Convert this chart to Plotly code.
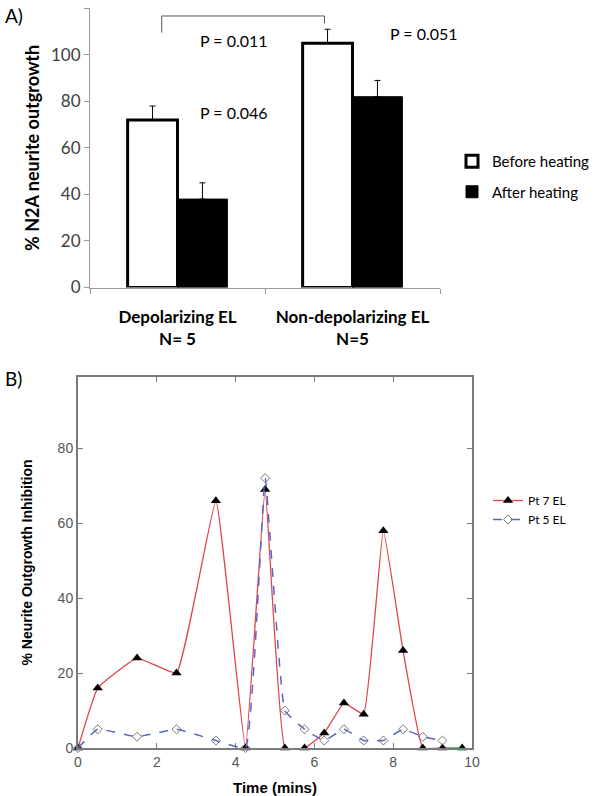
import plotly.graph_objects as go

# ---------------- Panel A data ----------------
groups = ["Depolarizing EL<br>N= 5", "Non-depolarizing EL<br>N=5"]
before_vals = [72, 105]
before_err = [6, 6]
after_vals = [38, 82]
after_err = [7, 7]
p_texts = ["P = 0.011", "P = 0.046", "P = 0.051"]

# ---------------- Panel B data ----------------
time_pt7 = [0, 0.5, 1.5, 2.5, 3.5, 4.25, 4.75, 5.25, 5.75, 6.25, 6.75, 7.25, 7.75, 8.25, 8.75, 9.25, 9.75]
pt7 = [0, 16, 24, 20, 66, 0, 69, 0, 0, 4, 12, 9, 58, 26, 0, 0, 0]
time_pt5 = [0, 0.5, 1.5, 2.5, 3.5, 4.25, 4.75, 5.25, 5.75, 6.25, 6.75, 7.25, 7.75, 8.25, 8.75, 9.25]
pt5 = [0, 5, 3, 5, 2, 0, 72, 10, 5, 2, 5, 2, 2, 5, 3, 2]

W, H = 596, 796


def fx(px):
    return px / W


def fy(py):
    return 1 - py / H


FA = "Lato, 'Open Sans', sans-serif"
FB = "'Liberation Sans', Arial, sans-serif"

fig = go.Figure()

fig.add_trace(go.Bar(
    x=groups, y=before_vals, name="Before heating",
    marker=dict(color="white", line=dict(color="black", width=3)),
    error_y=dict(type="data", array=before_err, arrayminus=[0, 0], symmetric=False,
                 color="black", thickness=1, width=3),
    xaxis="x", yaxis="y", legend="legend", legendgroup="a1",
))
fig.add_trace(go.Bar(
    x=groups, y=after_vals, name="After heating",
    marker=dict(color="black", line=dict(color="black", width=1)),
    error_y=dict(type="data", array=after_err, arrayminus=[0, 0], symmetric=False,
                 color="black", thickness=1, width=3),
    xaxis="x", yaxis="y", legend="legend", legendgroup="a2",
))

fig.add_trace(go.Scatter(
    x=time_pt7, y=pt7, name="Pt 7 EL", mode="lines+markers",
    line=dict(color="#e0464e", width=1.3, shape="spline", smoothing=0.3),
    marker=dict(symbol="triangle-up", size=9, color="black"),
    xaxis="x2", yaxis="y2", legend="legend2", cliponaxis=False,
))
fig.add_trace(go.Scatter(
    x=time_pt5, y=pt5, name="Pt 5 EL", mode="lines+markers",
    line=dict(color="#5a66c8", width=1.5, dash="dash", shape="spline", smoothing=0.3),
    marker=dict(symbol="diamond-open", size=7, color="#777777", line=dict(width=1)),
    xaxis="x2", yaxis="y2", legend="legend2", cliponaxis=False,
))

shapes = [
    # significance bracket
    dict(type="line", xref="x", yref="y", x0=-0.09, x1=-0.09, y0=109.5, y1=116.7,
         line=dict(color="#555555", width=1)),
    dict(type="line", xref="x", yref="y", x0=-0.09, x1=0.84, y0=116.7, y1=116.7,
         line=dict(color="#555555", width=1)),
    dict(type="line", xref="x", yref="y", x0=0.84, x1=0.84, y0=113.5, y1=116.7,
         line=dict(color="#555555", width=1)),
]

annotations = [
    dict(text=p_texts[0], x=0.32, y=106, xref="x", yref="y", showarrow=False,
         font=dict(family=FA, size=16, color="black")),
    dict(text=p_texts[1], x=0.32, y=75, xref="x", yref="y", showarrow=False,
         font=dict(family=FA, size=16, color="black")),
    dict(text=p_texts[2], x=1.41, y=109, xref="x", yref="y", showarrow=False,
         font=dict(family=FA, size=16, color="black")),
    dict(text="A)", x=fx(3), y=fy(16), xref="paper", yref="paper", showarrow=False,
         xanchor="left", yanchor="middle", font=dict(family=FA, size=19, color="black")),
    dict(text="B)", x=fx(3), y=fy(378), xref="paper", yref="paper", showarrow=False,
         xanchor="left", yanchor="middle", font=dict(family=FA, size=19, color="black")),
]

fig.update_layout(
    width=W, height=H,
    margin=dict(l=0, r=0, t=0, b=0, autoexpand=False),
    paper_bgcolor="white", plot_bgcolor="white",
    barmode="group", bargap=0.43, bargroupgap=0,
    shapes=shapes, annotations=annotations,
    xaxis=dict(domain=[fx(90), fx(440)], range=[-0.5, 1.5], autorange=False,
               showline=True, linecolor="#9a9a9a", linewidth=1,
               ticks="outside", tickson="boundaries", ticklen=5, tickcolor="#9a9a9a",
               ticklabelstandoff=14, automargin=False, tickangle=0,
               tickfont=dict(family=FA, size=17, color="black", weight="bold"),
               showgrid=False, anchor="y"),
    yaxis=dict(domain=[fy(287.5), fy(8.3)], range=[0, 120], dtick=20,
               showline=True, linecolor="#9a9a9a", linewidth=1, ticks="outside",
               ticklen=5, tickcolor="#9a9a9a", showgrid=False, zeroline=False,
               automargin=False,
               tickfont=dict(family=FA, size=17, color="#404040"),
               title=dict(text="% N2A neurite outgrowth", standoff=6,
                          font=dict(family=FA, size=18, color="black", weight="bold")),
               anchor="x"),
    xaxis2=dict(domain=[fx(78), fx(472)], range=[0, 10], dtick=2, showline=True,
                linecolor="#7a7a7a", linewidth=2, mirror="ticks", ticks="inside",
                ticklen=5, tickcolor="#7a7a7a", showgrid=False, zeroline=False,
                automargin=False,
                tickfont=dict(family=FB, size=14, color="#555555"),
                title=dict(text="Time (mins)", standoff=14,
                           font=dict(family=FB, size=15, color="black", weight="bold")),
                anchor="y2"),
    yaxis2=dict(domain=[fy(748), fy(377)], range=[0, 99], dtick=20, showline=True,
                linecolor="#7a7a7a", linewidth=2, mirror="ticks", ticks="inside",
                ticklen=5, tickcolor="#7a7a7a", showgrid=False, zeroline=False,
                automargin=False,
                tickfont=dict(family=FB, size=14, color="#555555"),
                title=dict(text="% Neurite Outgrowth Inhibition", standoff=22,
                           font=dict(family=FB, size=14, color="black", weight="bold")),
                anchor="x2"),
    legend=dict(x=fx(452), y=fy(145), xanchor="left", yanchor="top",
                bgcolor="rgba(0,0,0,0)", tracegroupgap=8, traceorder="grouped",
                itemwidth=30,
                font=dict(family=FA, size=15, color="black")),
    legend2=dict(x=fx(488), y=fy(486), xanchor="left", yanchor="top",
                 bgcolor="rgba(0,0,0,0)", itemwidth=30,
                 font=dict(family=FA, size=12, color="black")),
)

fig.write_html(
    "out.html",
    config={"displayModeBar": False},
    post_script="document.body.style.margin='0';document.body.style.overflow='hidden';",
)
